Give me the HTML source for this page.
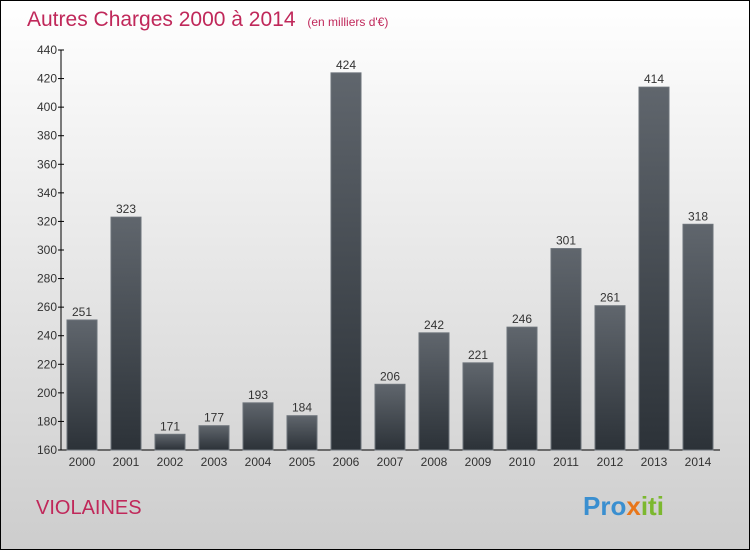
<!DOCTYPE html>
<html><head><meta charset="utf-8"><style>
body{margin:0;width:750px;height:550px;overflow:hidden}
</style></head><body>
<svg id="c" width="750" height="550" xmlns="http://www.w3.org/2000/svg" style="font-family:'Liberation Sans',sans-serif">
<defs>
<linearGradient id="bg" x1="0" y1="0" x2="0" y2="1"><stop offset="0" stop-color="#ffffff"/><stop offset="1" stop-color="#cdcdcd"/></linearGradient>
<linearGradient id="bar" x1="0" y1="0" x2="0" y2="1"><stop offset="0" stop-color="#60666d"/><stop offset="1" stop-color="#2c3238"/></linearGradient>
</defs>
<rect x="0.5" y="0.5" width="749" height="549" fill="url(#bg)" stroke="#000"/>
<text x="27" y="26" font-size="21" fill="#c0285a">Autres Charges 2000 à 2014 <tspan font-size="12" dx="6">(en milliers d'€)</tspan></text>
<text x="36" y="514" font-size="20" fill="#c0285a">VIOLAINES</text>
<text x="583" y="515" font-size="26" font-weight="bold"><tspan fill="#3a8fd0">Pro</tspan><tspan fill="#e8761a">x</tspan><tspan fill="#7cb82f">iti</tspan></text>
<g id="axes"></g>
<g id="bars"></g>
</svg>
<script>
const years=["2000","2001","2002","2003","2004","2005","2006","2007","2008","2009","2010","2011","2012","2013","2014"];
const values=[251,323,171,177,193,184,424,206,242,221,246,301,261,414,318];
const yTicks=[160,180,200,220,240,260,280,300,320,340,360,380,400,420,440];
const NS="http://www.w3.org/2000/svg";
const y0=450,y1=50,vmin=160,vmax=440;
const y=v=>y0-(v-vmin)/(vmax-vmin)*(y0-y1);
const x=i=>82+i*44;
function mk(t,a,p){const e=document.createElementNS(NS,t);for(const k in a)e.setAttribute(k,a[k]);p.appendChild(e);return e;}
const ax=document.getElementById('axes'),bg=document.getElementById('bars');
const yl=mk('line',{x1:61,y1:y1,x2:61,y2:y0,stroke:'#000'},ax);


const xl=mk('line',{x1:61,y1:y0,x2:720,y2:y0,stroke:'#000'},ax);


yTicks.forEach(v=>{
 const tk=mk('line',{x1:58,y1:y(v),x2:64,y2:y(v),stroke:'#000'},ax);
 
 
 const t=mk('text',{x:57,y:y(v)+4,'font-size':12,'text-anchor':'end',fill:'#333'},ax);
 t.textContent=v;
 
 
});
values.forEach((v,i)=>{
 const r=mk('rect',{x:x(i)-15,y:y(v),width:30,height:y0-y(v),fill:'url(#bar)',stroke:'#6c737a','stroke-width':1},bg);
 
 
 const t=mk('text',{x:x(i),y:y(v)-4,'font-size':12,'text-anchor':'middle',fill:'#333'},bg);
 t.textContent=v;
 
 
 const l=mk('text',{x:x(i),y:466,'font-size':12,'text-anchor':'middle',fill:'#333'},bg);
 l.textContent=years[i];
 
 
});
</script>
</body></html>
